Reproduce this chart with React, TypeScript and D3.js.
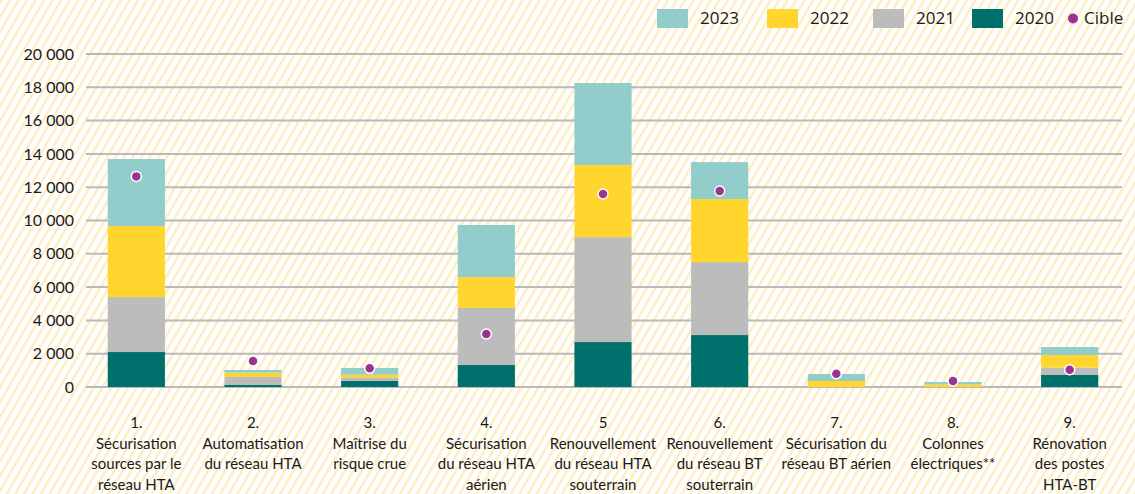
import { useEffect, useRef } from 'react';
import * as d3 from 'd3';

const categories = [
  ['1.', 'Sécurisation', 'sources par le', 'réseau HTA'],
  ['2.', 'Automatisation', 'du réseau HTA'],
  ['3.', 'Maîtrise du', 'risque crue'],
  ['4.', 'Sécurisation', 'du réseau HTA', 'aérien'],
  ['5', 'Renouvellement', 'du réseau HTA', 'souterrain'],
  ['6.', 'Renouvellement', 'du réseau BT', 'souterrain'],
  ['7.', 'Sécurisation du', 'réseau BT aérien'],
  ['8.', 'Colonnes', 'électriques**'],
  ['9.', 'Rénovation', 'des postes', 'HTA-BT'],
];

const v2020 = [2100, 140, 360, 1320, 2700, 3120, 0, 0, 720];
const v2021 = [3300, 460, 200, 3430, 6300, 4380, 0, 0, 440];
const v2022 = [4270, 260, 180, 1850, 4330, 3790, 360, 160, 760];
const v2023 = [4020, 160, 400, 3130, 4930, 2220, 420, 140, 480];
const cible = [12650, 1560, 1120, 3180, 11590, 11770, 800, 360, 1040];

const yTicks = [0, 2000, 4000, 6000, 8000, 10000, 12000, 14000, 16000, 18000, 20000];

const seriesKeys = ['2020', '2021', '2022', '2023'];
const colors = {
  '2020': '#00706c',
  '2021': '#bcbcbc',
  '2022': '#ffd52e',
  '2023': '#92cdcc',
};
const cibleColor = '#9b348f';

const legendItems = [
  { key: '2023', x: 657 },
  { key: '2022', x: 767 },
  { key: '2021', x: 873 },
  { key: '2020', x: 972 },
];

export default function App() {
  const ref = useRef(null);

  useEffect(() => {
    const W = 1135;
    const H = 494;
    const root = d3.select(ref.current);
    root.selectAll('*').remove();

    const svg = root.append('svg')
      .attr('width', W)
      .attr('height', H)
      .style('position', 'absolute')
      .style('left', 0)
      .style('top', 0)
      .style('font-family', 'Lato, "Open Sans", sans-serif');

    // striped background
    const pat = svg.append('defs').append('pattern')
      .attr('id', 'stripes')
      .attr('patternUnits', 'userSpaceOnUse')
      .attr('width', 7.4)
      .attr('height', 10)
      .attr('patternTransform', 'rotate(30)');
    pat.append('rect').attr('width', 7.4).attr('height', 10).attr('fill', '#ffffff');
    pat.append('rect').attr('width', 2.4).attr('height', 10).attr('fill', '#fdedc0');

    svg.append('rect').attr('width', W).attr('height', H).attr('fill', 'url(#stripes)');

    const table = categories.map((c, i) => ({
      i,
      '2020': v2020[i],
      '2021': v2021[i],
      '2022': v2022[i],
      '2023': v2023[i],
      cible: cible[i],
    }));

    const x = d3.scaleBand()
      .domain(d3.range(categories.length))
      .range([78, 1128])
      .paddingInner(0.51)
      .paddingOuter(0.255);

    const y = d3.scaleLinear().domain([0, 20000]).range([387, 54]);

    // grid
    svg.append('g')
      .selectAll('line')
      .data(yTicks)
      .enter().append('line')
      .attr('x1', 86)
      .attr('x2', 1122)
      .attr('y1', d => y(d))
      .attr('y2', d => y(d))
      .attr('stroke', '#bababa')
      .attr('stroke-width', 2);

    svg.append('g')
      .selectAll('text')
      .data(yTicks)
      .enter().append('text')
      .attr('x', 74)
      .attr('y', d => y(d))
      .attr('dy', '0.35em')
      .attr('text-anchor', 'end')
      .attr('font-size', 16)
      .attr('fill', '#1a1a1a')
      .text(d => d3.format(',')(d).replace(/,/g, ' '));

    // stacked bars
    const stacked = d3.stack().keys(seriesKeys)(table);
    svg.append('g')
      .selectAll('g')
      .data(stacked)
      .enter().append('g')
      .attr('fill', d => colors[d.key])
      .selectAll('rect')
      .data(d => d)
      .enter().append('rect')
      .attr('x', d => x(d.data.i))
      .attr('y', d => y(d[1]))
      .attr('height', d => y(d[0]) - y(d[1]))
      .attr('width', x.bandwidth());

    // cible dots
    svg.append('g')
      .selectAll('circle')
      .data(table)
      .enter().append('circle')
      .attr('cx', d => x(d.i) + x.bandwidth() / 2)
      .attr('cy', d => y(d.cible))
      .attr('r', 5)
      .attr('fill', cibleColor)
      .attr('stroke', '#ffffff')
      .attr('stroke-width', 1.5);

    // category labels
    const labels = svg.append('g')
      .selectAll('text')
      .data(categories)
      .enter().append('text')
      .attr('x', (d, i) => x(i) + x.bandwidth() / 2)
      .attr('y', 423)
      .attr('text-anchor', 'middle')
      .attr('font-size', 15)
      .attr('fill', '#1a1a1a');
    labels.selectAll('tspan')
      .data(d => d)
      .enter().append('tspan')
      .attr('x', function () { return d3.select(this.parentNode).attr('x'); })
      .attr('dy', (d, j) => (j === 0 ? '0.35em' : 20.5))
      .text(d => d);

    // legend
    const legend = svg.append('g')
      .selectAll('g')
      .data(legendItems)
      .enter().append('g')
      .attr('transform', d => `translate(${d.x},0)`);
    legend.append('rect')
      .attr('y', 9)
      .attr('width', 31)
      .attr('height', 19)
      .attr('fill', d => colors[d.key]);
    legend.append('text')
      .attr('x', 43)
      .attr('y', 18.5)
      .attr('dy', '0.35em')
      .attr('font-size', 17)
      .attr('font-family', '"Open Sans", sans-serif')
      .attr('fill', '#1a1a1a')
      .text(d => d.key);

    svg.append('circle')
      .attr('cx', 1073)
      .attr('cy', 18.5)
      .attr('r', 5)
      .attr('fill', cibleColor);
    svg.append('text')
      .attr('x', 1084)
      .attr('y', 18.5)
      .attr('dy', '0.35em')
      .attr('font-size', 17)
      .attr('font-family', '"Open Sans", sans-serif')
      .attr('fill', '#1a1a1a')
      .text('Cible');
  }, []);

  return <div ref={ref} style={{ width: 1135, height: 494 }} />;
}
